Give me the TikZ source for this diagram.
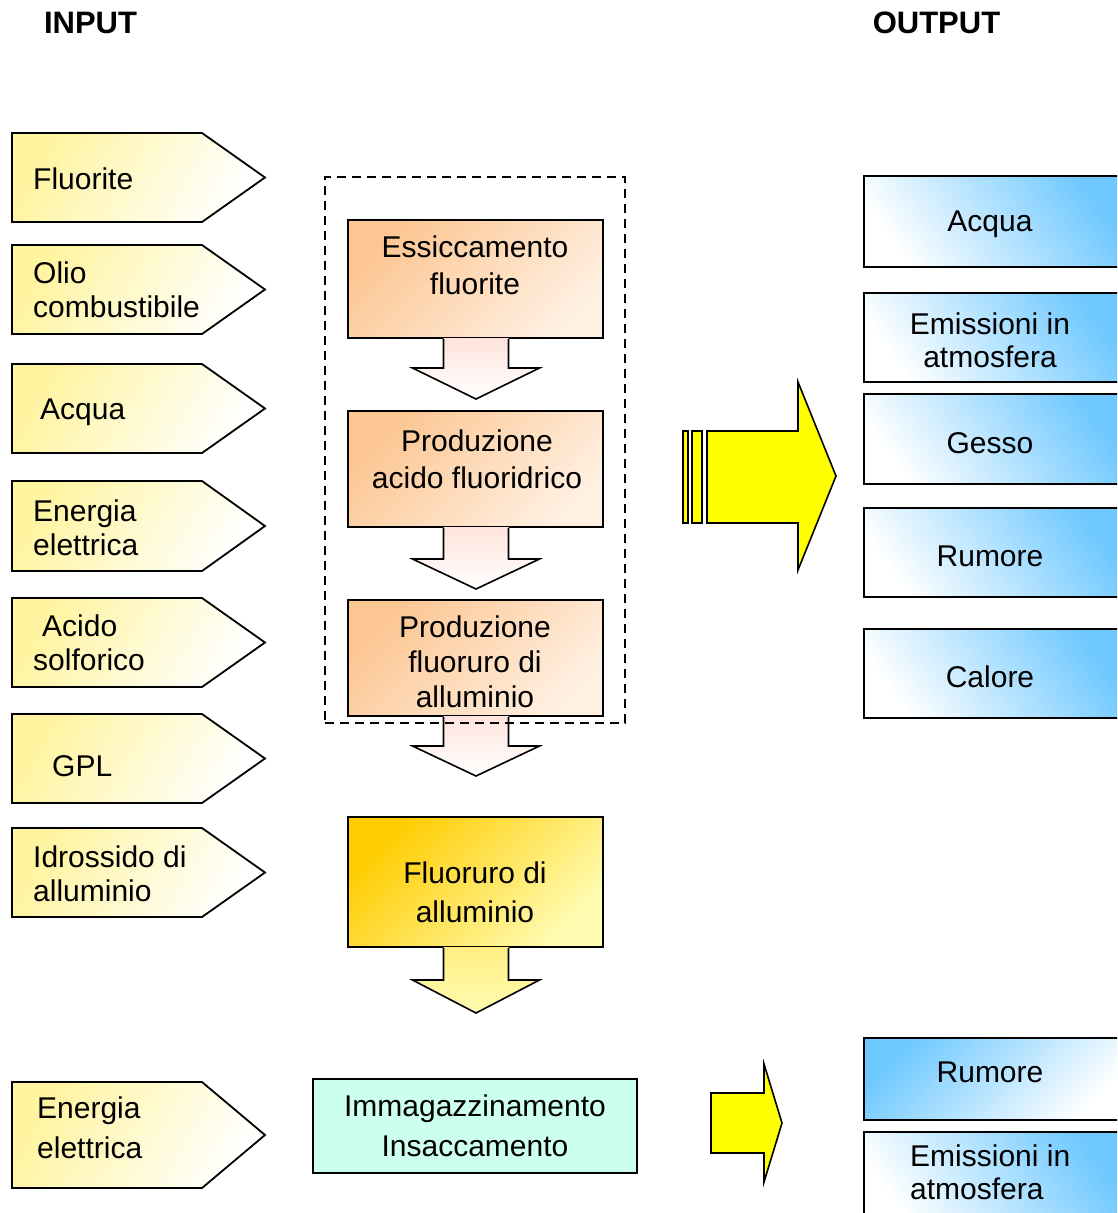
\documentclass[tikz,border=0pt]{standalone}
\usepackage{fontspec}
\setmainfont{Liberation Sans}
\usetikzlibrary{calc}

\definecolor{inyellow}{RGB}{255,244,160}
\definecolor{peach}{RGB}{252,198,146}
\definecolor{peachlight}{RGB}{255,240,226}
\definecolor{pinklight}{RGB}{255,228,220}
\definecolor{gold}{RGB}{255,204,0}
\definecolor{goldlight}{RGB}{255,252,178}
\definecolor{goldarrow}{RGB}{255,238,130}
\definecolor{mint}{RGB}{204,255,238}
\definecolor{skyblue}{RGB}{110,200,255}
\definecolor{signyellow}{RGB}{255,255,0}

% input tag: pentagon pointing right, between y-top #2 and y-bottom #3
\newcommand{\feedtag}[3]{%
  \path[feed] (12,#2) -- (202,#2) -- (265,{(#2+#3)/2}) -- (202,#3) -- (12,#3) -- cycle;
  \coordinate (#1) at (265,{(#2+#3)/2});}

% block arrow hanging below a box: #1 box, #2 stem length, #3 head length,
% #4 top colour, #5 bottom colour
\newcommand{\flowdown}[5]{%
  \path[top color=#4, bottom color=#5]
    ($(#1.south)+(-32,-1)$) -- ++(0,#2+1) -- ++(-31,0) -- ++(63.5,#3)
    -- ++(63.5,-#3) -- ++(-31,0) -- ++(0,-#2-1) -- cycle;
  \draw[flowline]
    ($(#1.south)+(-32,0)$) -- ++(0,#2) -- ++(-31,0) -- ++(63.5,#3)
    -- ++(63.5,-#3) -- ++(-31,0) -- ++(0,-#2);}

\begin{document}
\begin{tikzpicture}[x=1pt,y=-1pt,
  feed/.style={draw=black, line width=1.8pt, line join=miter,
    top color=inyellow, bottom color=white, shading angle=60},
  procbox/.style={draw=black, line width=2pt, minimum width=255,
    top color=peach, bottom color=peachlight, shading angle=45},
  goldbox/.style={draw=black, line width=2pt, minimum width=255,
    top color=gold, bottom color=goldlight, shading angle=45},
  storebox/.style={draw=black, line width=2pt, fill=mint,
    minimum width=324, minimum height=94},
  outbox/.style={draw=black, line width=2pt, minimum width=261,
    top color=skyblue, bottom color=white, shading angle=-55},
  outboxleft/.style={outbox, shading angle=45},
  flowline/.style={draw=black, line width=1.6pt, line join=miter},
  bigarrow/.style={draw=black, line width=1.6pt, fill=signyellow, line join=miter},
  frame/.style={draw=black, line width=2pt, dash pattern=on 9pt off 6pt,
    minimum width=300, minimum height=546},
  intxt/.style={font=\fontsize{30}{34}\selectfont, inner sep=0pt,
    anchor=west, align=left},
  ptxt/.style={font=\fontsize{30}{37}\selectfont, inner sep=0pt, align=center},
  otxt/.style={font=\fontsize{30}{33}\selectfont, inner sep=0pt, align=center},
  title/.style={font=\fontsize{31}{34}\selectfont\bfseries, inner sep=0pt}
]
\useasboundingbox (0,0) rectangle (1117,1213);
\clip (0,0) rectangle (1117,1213);
\fill[white] (0,0) rectangle (1117,1213);

% headings
\node[title] (hin) at (90.5,22.5) {INPUT};
\node[title] (hout) at (936.5,22.5) {OUTPUT};

% input tags
\feedtag{in1}{133}{222}
\feedtag{in2}{245}{334}
\feedtag{in3}{364}{453}
\feedtag{in4}{481}{571}
\feedtag{in5}{598}{687}
\feedtag{in6}{714}{803}
\feedtag{in7}{828}{917}
\feedtag{in8}{1082}{1188}

\node[intxt] (tin1) at (33,178.5) {Fluorite};
\node[intxt] (tin2) at (33,290) {Olio\\combustibile};
\node[intxt] (tin3) at (40,412) {Acqua};
\node[intxt] (tin4) at (33,527.5) {Energia\\elettrica};
\node[intxt] (tin5) at (33,643) {\hspace*{9pt}Acido\\solforico};
\node[intxt] (tin6) at (52,766) {GPL};
\node[intxt] (tin7) at (33,874) {Idrossido di\\alluminio};
\node[intxt, font=\fontsize{30}{40}\selectfont] (tin8) at (37,1128) {Energia\\elettrica};

% process chain
\node[procbox, minimum height=118] (p1) at (475.5,279) {};
\node[procbox, minimum height=116] (p2) at (475.5,469) {};
\node[procbox, minimum height=116] (p3) at (475.5,658) {};
\node[goldbox, minimum height=130] (p4) at (475.5,882) {};
\node[storebox] (p5) at (475,1126) {};

\flowdown{p1}{29}{31}{pinklight}{white}
\flowdown{p2}{31}{30}{pinklight}{white}
\flowdown{p3}{29}{30}{pinklight}{white}
\flowdown{p4}{32}{33}{goldarrow}{goldlight}

\node[frame] (stage) at (475,450) {};

\node[ptxt] (tp1) at (475,265.5) {Essiccamento\\fluorite};
\node[ptxt] (tp2) at (477,459) {Produzione\\acido fluoridrico};
\node[ptxt, font=\fontsize{30}{35}\selectfont] (tp3) at (475,662) {Produzione\\fluoruro di\\alluminio};
\node[ptxt, font=\fontsize{30}{39}\selectfont] (tp4) at (475,892) {Fluoruro di\\alluminio};
\node[ptxt, font=\fontsize{30}{40}\selectfont] (tp5) at (475,1126) {Immagazzinamento\\Insaccamento};

% arrows towards the outputs
\coordinate (bigtail) at (707,477);
\draw[bigarrow] (683,431) rectangle (688,523);
\draw[bigarrow] (692,431) rectangle (702,523);
\draw[bigarrow] (bigtail) ++(0,-46) -- (798,431) -- (798,382) -- (836,476)
  -- (798,570) -- (798,523) -- (707,523) -- cycle;

\coordinate (smalltail) at (711,1123);
\draw[bigarrow] (smalltail) ++(0,-30) -- (764,1093) -- (764,1064) -- (782,1123)
  -- (764,1182) -- (764,1153) -- (711,1153) -- cycle;

% outputs
\node[outbox, minimum height=91] (o1) at (994.5,221.5) {};
\node[outbox, minimum height=89] (o2) at (994.5,337.5) {};
\node[outbox, minimum height=90] (o3) at (994.5,439) {};
\node[outbox, minimum height=89] (o4) at (994.5,552.5) {};
\node[outbox, minimum height=89] (o5) at (994.5,673.5) {};
\node[outboxleft, minimum height=82] (o6) at (994.5,1079) {};
\node[outbox, minimum height=93] (o7) at (994.5,1178.5) {};

\node[otxt] (to1) at (990,224) {Acqua};
\node[otxt] (to2) at (990,340) {Emissioni in\\atmosfera};
\node[otxt] (to3) at (990,443) {Gesso};
\node[otxt] (to4) at (990,556) {Rumore};
\node[otxt] (to5) at (990,677) {Calore};
\node[otxt] (to6) at (990,1072) {Rumore};
\node[otxt, align=left, anchor=west] (to7) at (910,1172) {Emissioni in\\atmosfera};
\end{tikzpicture}
\end{document}
